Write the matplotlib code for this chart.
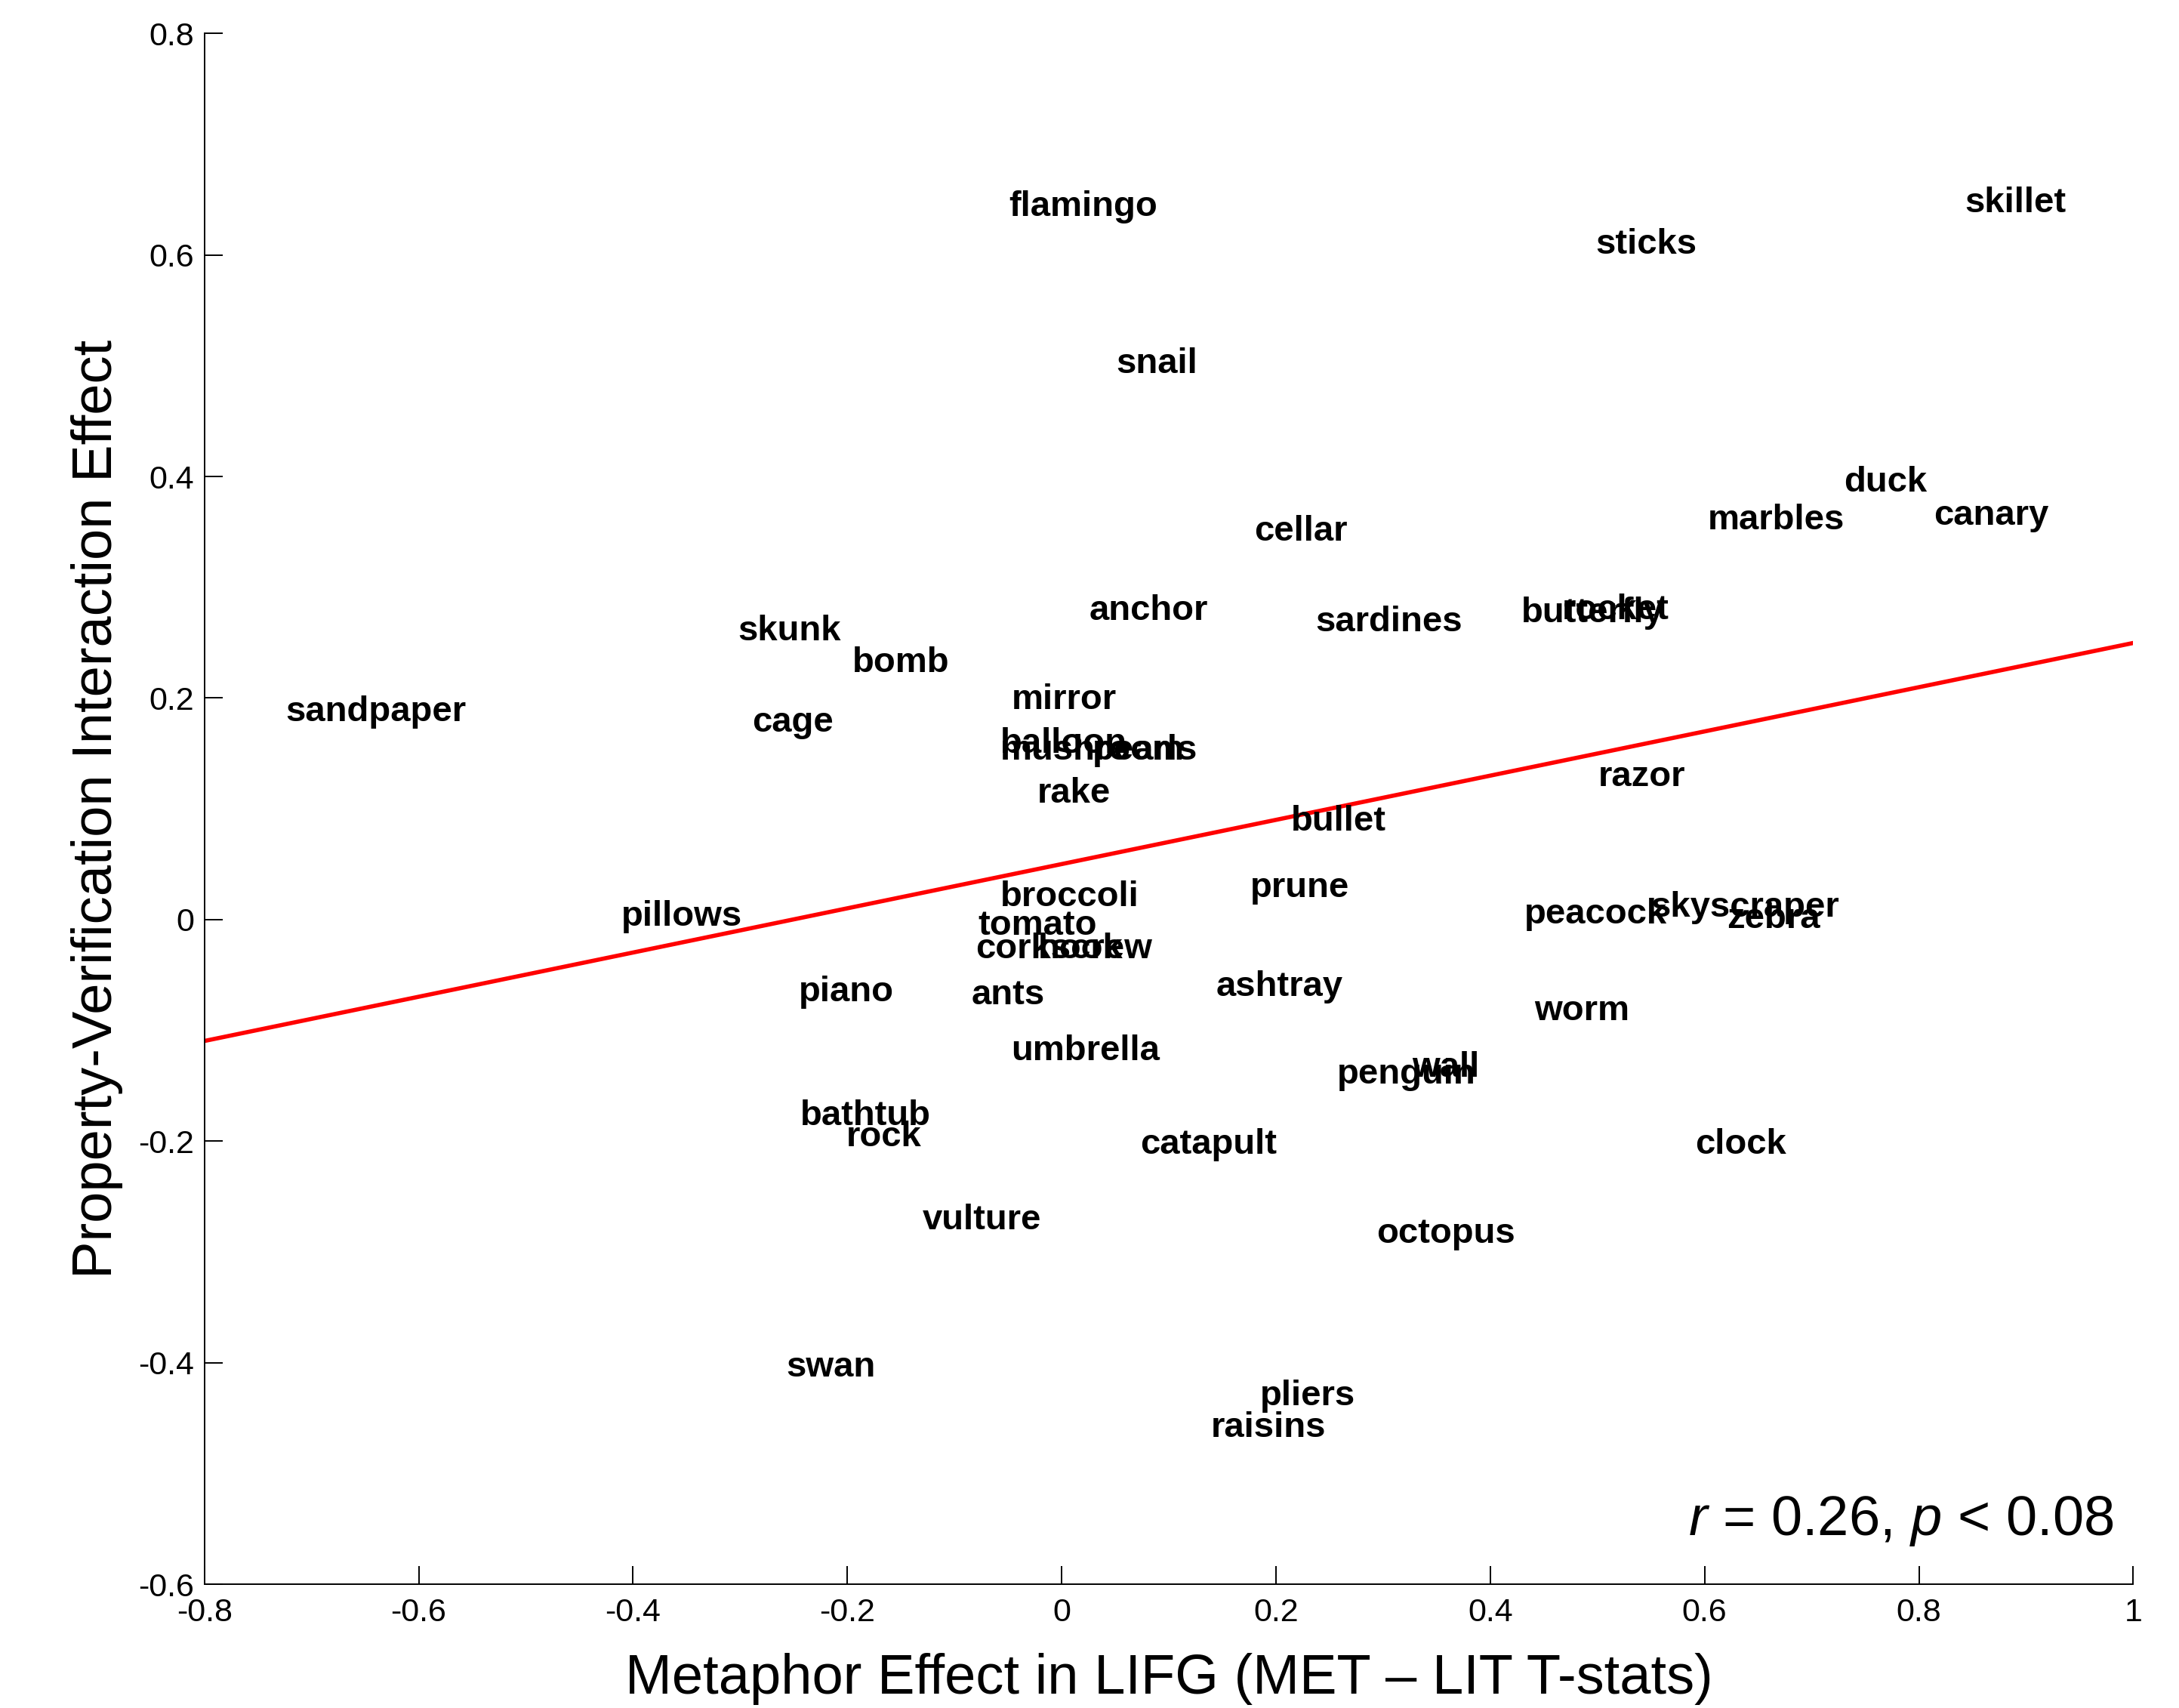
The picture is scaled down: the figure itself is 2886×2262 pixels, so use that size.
import matplotlib
matplotlib.use('Agg')
import matplotlib.pyplot as plt
import matplotlib.transforms as mtransforms
import numpy as np

plt.rcParams['font.family'] = ['Liberation Sans', 'DejaVu Sans']
plt.rcParams['mathtext.fontset'] = 'custom'
plt.rcParams['mathtext.rm'] = 'Liberation Sans'
plt.rcParams['mathtext.it'] = 'Liberation Sans:italic'

# word items: metaphor effect (x) vs property-verification interaction (y)
words = ['flamingo', 'sticks', 'skillet', 'snail', 'duck', 'canary', 'marbles',
         'cellar', 'anchor', 'sardines', 'butterfly', 'rocket', 'skunk', 'bomb',
         'sandpaper', 'mirror', 'cage', 'balloon', 'mushroom', 'pearls', 'rake',
         'razor', 'bullet', 'broccoli', 'prune', 'pillows', 'peacock',
         'skyscraper', 'zebra', 'tomato', 'corkscrew', 'hook', 'ashtray',
         'piano', 'ants', 'worm', 'umbrella', 'penguin', 'wall', 'bathtub',
         'rock', 'catapult', 'clock', 'vulture', 'octopus', 'swan', 'pliers',
         'raisins']
met_effect = [-0.049, 0.498, 0.843, 0.051, 0.730, 0.814, 0.603,
              0.180, 0.026, 0.237, 0.429, 0.467, -0.302, -0.195,
              -0.724, -0.047, -0.289, -0.057, -0.057, 0.029, -0.023,
              0.501, 0.214, -0.057, 0.176, -0.411, 0.432,
              0.550, 0.621, -0.078, -0.080, -0.022, 0.144,
              -0.245, -0.084, 0.441, -0.047, 0.257, 0.327, -0.244,
              -0.201, 0.073, 0.591, -0.130, 0.294, -0.257, 0.185,
              0.139]
pv_effect = [0.646, 0.612, 0.649, 0.504, 0.397, 0.367, 0.363,
             0.353, 0.281, 0.271, 0.279, 0.282, 0.263, 0.234,
             0.190, 0.201, 0.180, 0.161, 0.155, 0.155, 0.116,
             0.131, 0.091, 0.023, 0.031, 0.005, 0.007,
             0.013, 0.003, -0.003, -0.024, -0.024, -0.058,
             -0.063, -0.066, -0.080, -0.116, -0.137, -0.131, -0.175,
             -0.194, -0.201, -0.201, -0.269, -0.281, -0.402, -0.428,
             -0.456]

xticks = [-0.8, -0.6, -0.4, -0.2, 0, 0.2, 0.4, 0.6, 0.8, 1]
xticklabels = ['-0.8', '-0.6', '-0.4', '-0.2', '0', '0.2', '0.4', '0.6', '0.8', '1']
yticks = [-0.6, -0.4, -0.2, 0, 0.2, 0.4, 0.6, 0.8]
yticklabels = ['-0.6', '-0.4', '-0.2', '0', '0.2', '0.4', '0.6', '0.8']

x = np.array(met_effect)
y = np.array(pv_effect)

fig = plt.figure(figsize=(14.43, 11.31), dpi=200)
ax = fig.add_axes([0.0938, 0.0724, 0.8852, 0.9081])

# matlab 'middle' sits a touch lower than mpl 'center'
txt_trans = mtransforms.offset_copy(ax.transData, fig=fig, y=-1.3, units='points')
for w, xi, yi in zip(words, x, y):
    ax.text(xi, yi, w, fontsize=17, fontweight='bold', ha='left', va='center',
            transform=txt_trans)

# least squares line across the full x range
slope, icpt = np.polyfit(x, y, 1)
xl = np.array([-0.8, 1.0])
ax.plot(xl, slope*xl + icpt, color='red', lw=2.0)

ax.set_xlim(-0.8, 1)
ax.set_ylim(-0.6, 0.8)
ax.set_xticks(xticks)
ax.set_xticklabels(xticklabels)
ax.set_yticks(yticks)
ax.set_yticklabels(yticklabels)
ax.tick_params(direction='in', length=8.8, width=0.7, labelsize=15.5)
ax.tick_params(axis='x', pad=6.5)
ax.tick_params(axis='y', pad=4.8)
ax.spines['top'].set_visible(False)
ax.spines['right'].set_visible(False)
ax.spines['left'].set_linewidth(0.7)
ax.spines['bottom'].set_linewidth(0.7)

ax.set_xlabel('Metaphor Effect in LIFG (MET \u2013 LIT T-stats)', fontsize=26.7, va='center')
ax.xaxis.set_label_coords(0.5, -0.0609)
ax.set_ylabel('Property-Verification Interaction Effect', fontsize=26.7, va='center')
ax.yaxis.set_label_coords(-0.0556, 0.5)

ax.text(0.99, 0.041, '$r$ = 0.26, $p$ < 0.08', transform=ax.transAxes,
        fontsize=26.7, ha='right', va='center')

fig.savefig('out.png', dpi=200)
